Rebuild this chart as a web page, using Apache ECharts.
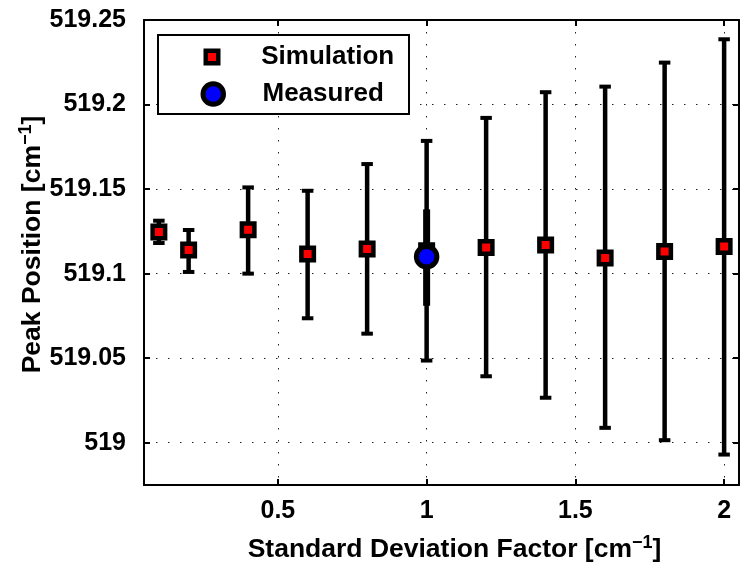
<!DOCTYPE html>
<html>
<head>
<meta charset="utf-8">
<script src="https://cdn.jsdelivr.net/npm/echarts@6/dist/echarts.min.js"></script>
<style>
html,body{margin:0;padding:0;background:#fff;}
#c{width:740px;height:564px;}
</style>
</head>
<body>
<div id="c"></div>
<script>
// ---- data ----
const xValues  = [0.1, 0.2, 0.4, 0.6, 0.8, 1.0, 1.2, 1.4, 1.6, 1.8, 2.0];
const simMean  = [519.1246, 519.1140, 519.1260, 519.1116, 519.1146, 519.1136, 519.1155, 519.1169, 519.1093, 519.1131, 519.1161];
const simLow   = [519.1181, 519.1010, 519.1000, 519.0736, 519.0645, 519.0486, 519.0393, 519.0266, 519.0088, 519.0015, 518.9930];
const simHigh  = [519.1313, 519.1258, 519.1510, 519.1490, 519.1648, 519.1785, 519.1921, 519.2073, 519.2106, 519.2248, 519.2386];
const measX    = [1.0];
const measMean = [519.110];
const measLow  = [519.081];
const measHigh = [519.138];
const xRange = [0.05, 2.05];
const yRange = [518.975, 519.25];

const FONT = '"Liberation Sans", Arial, sans-serif';

const simPts = xValues.map((x, i) => [x, simMean[i]]);
const simErr = xValues.map((x, i) => [x, simLow[i], simHigh[i]]);
const measPts = measX.map((x, i) => [x, measMean[i]]);
const measErr = measX.map((x, i) => [x, measLow[i], measHigh[i]]);

function errRender(lineW, capW, capH) {
  return function (params, api) {
    const x = api.value(0), lo = api.value(1), hi = api.value(2);
    const pLo = api.coord([x, lo]);
    const pHi = api.coord([x, hi]);
    const children = [{
      type: 'line',
      shape: { x1: pLo[0], y1: pLo[1], x2: pHi[0], y2: pHi[1] },
      style: { stroke: '#000', lineWidth: lineW }
    }];
    if (capW > 0) {
      children.push({ type: 'rect', shape: { x: pHi[0] - capW / 2, y: pHi[1] - capH / 2, width: capW, height: capH }, style: { fill: '#000' } });
      children.push({ type: 'rect', shape: { x: pLo[0] - capW / 2, y: pLo[1] - capH / 2, width: capW, height: capH }, style: { fill: '#000' } });
    }
    return { type: 'group', children };
  };
}

const labelStyle = { color: '#000', fontSize: 25, fontWeight: 'bold', fontFamily: FONT };
const gridLine = { show: true, lineStyle: { color: '#222', width: 1, type: [1.5, 10.5] } };
const axisLine = { show: true, onZero: false, lineStyle: { color: '#000', width: 2 } };
const axisTick = { show: true, inside: true, length: 6, lineStyle: { color: '#000', width: 2 } };
function nameStyle(pad) {
  return {
    color: '#000', fontSize: 26.5, fontWeight: 'bold', fontFamily: FONT, lineHeight: 32, padding: pad,
    rich: { sup: { fontSize: 18, fontWeight: 'bold', fontFamily: FONT, color: '#000', verticalAlign: 'top', lineHeight: 18 } }
  };
}

const chart = echarts.init(document.getElementById('c'), null, { renderer: 'canvas' });
chart.setOption({
  animation: false,
  backgroundColor: '#fff',
  grid: { left: 144, top: 20, right: 1, bottom: 79, containLabel: false, outerBoundsMode: 'none' },
  xAxis: [{
    type: 'value', min: xRange[0], max: xRange[1], position: 'bottom', splitNumber: 4,
    name: 'Standard Deviation Factor [cm{sup|\u22121}]', nameLocation: 'middle', nameGap: 49,
    nameTextStyle: nameStyle([0, 0, 0, 26]),
    axisLine, axisTick,
    axisLabel: Object.assign({ margin: 14, showMinLabel: false, showMaxLabel: false }, labelStyle),
    splitLine: gridLine
  }, {
    type: 'value', min: xRange[0], max: xRange[1], position: 'top', splitNumber: 4,
    axisLine, axisTick, axisLabel: { show: false }, splitLine: { show: false }
  }],
  yAxis: [{
    type: 'value', min: yRange[0], max: yRange[1], position: 'left', splitNumber: 5,
    name: 'Peak Position [cm{sup|\u22121}]', nameLocation: 'middle', nameGap: 95, nameRotate: 90,
    nameMoveOverlap: false,
    nameTextStyle: nameStyle([0, 0, 0, 16]),
    axisLine, axisTick,
    axisLabel: Object.assign({ margin: 18, showMinLabel: false, showMaxLabel: true }, labelStyle),
    splitLine: gridLine
  }, {
    type: 'value', min: yRange[0], max: yRange[1], position: 'right', splitNumber: 5,
    axisLine, axisTick, axisLabel: { show: false }, splitLine: { show: false }
  }],
  graphic: [{
    type: 'rect', left: 157, top: 34, z: 10,
    shape: { width: 251, height: 79 },
    style: { fill: '#fff', stroke: '#000', lineWidth: 2 }
  }],
  legend: [{
    data: [{ name: 'Simulation', icon: 'rect', itemStyle: { color: '#ff0000', borderColor: '#000', borderWidth: 4.5 } }],
    left: 203.5, top: 44, itemWidth: 12.5, itemHeight: 12.5, padding: 0, z: 20,
    selectedMode: false,
    formatter: '{t|{name}}',
    textStyle: { rich: { t: { fontSize: 26, fontWeight: 'bold', fontFamily: FONT, color: '#000', padding: [0, 0, 0, 38] } } }
  }, {
    data: [{ name: 'Measured', icon: 'circle', itemStyle: { color: '#0000ff', borderColor: '#000', borderWidth: 5 } }],
    left: 200.5, top: 81, itemWidth: 20.5, itemHeight: 20.5, padding: 0, z: 20,
    selectedMode: false,
    formatter: '{t|{name}}',
    textStyle: { rich: { t: { fontSize: 26, fontWeight: 'bold', fontFamily: FONT, color: '#000', padding: [0, 0, 0, 34] } } }
  }],
  series: [{
    name: 'simErr', type: 'custom', renderItem: errRender(4.5, 11.5, 4),
    encode: { x: 0, y: [1, 2] }, data: simErr, z: 2, silent: true
  }, {
    name: 'Simulation', type: 'scatter', data: simPts, symbol: 'rect', symbolSize: 12.5,
    itemStyle: { color: '#ff0000', borderColor: '#000', borderWidth: 4.5, opacity: 1 }, z: 3, silent: true
  }, {
    name: 'measErr', type: 'custom', renderItem: errRender(7, 0, 0),
    encode: { x: 0, y: [1, 2] }, data: measErr, z: 4, silent: true
  }, {
    name: 'Measured', type: 'scatter', data: measPts, symbol: 'circle', symbolSize: 20.5,
    itemStyle: { color: '#0000ff', borderColor: '#000', borderWidth: 5, opacity: 1 }, z: 5, silent: true
  }]
});
</script>
</body>
</html>
